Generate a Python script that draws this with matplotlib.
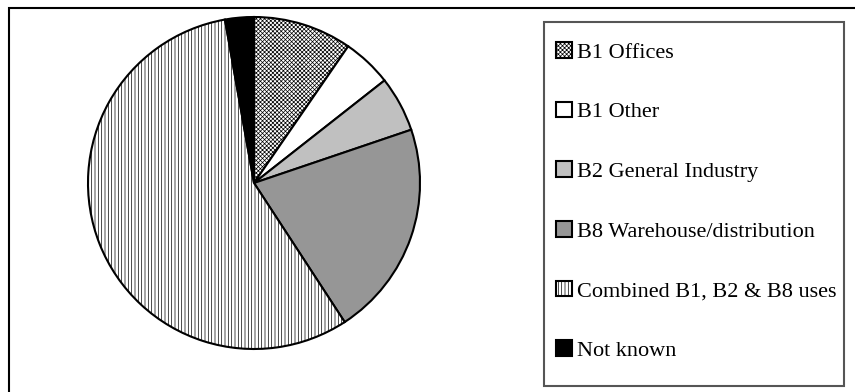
import matplotlib
matplotlib.use("Agg")
import matplotlib.pyplot as plt
from matplotlib.patches import Rectangle

# share of floorspace by use class (%)
labels = ["B1 Offices", "B1 Other", "B2 General Industry",
          "B8 Warehouse/distribution", "Combined B1, B2 & B8 uses", "Not known"]
values = [9.6, 4.8, 5.4, 21.0, 56.4, 2.8]
colours = ["white", "white", "#c0c0c0", "#969696", "white", "black"]
hatches = ["xxxxxxxx", "", "", "", "|||||", ""]

plt.rcParams["font.family"] = ["Liberation Serif", "DejaVu Serif"]
plt.rcParams["hatch.linewidth"] = 0.5

W, H = 855, 392
fig = plt.figure(figsize=(W / 100, H / 100), dpi=100)

# pie axes: centre (254,183) px, radius 166 px
cx, cy, r = 254, 183, 166
pad = 1.02
ax = fig.add_axes([(cx - r * pad) / W, (H - cy - r * pad) / H,
                   2 * r * pad / W, 2 * r * pad / H])
wedges, _ = ax.pie(values, colors=colours, startangle=90, counterclock=False,
                   wedgeprops=dict(edgecolor="black", linewidth=1.5))
for w, h in zip(wedges, hatches):
    if h:
        w.set_hatch(h)
ax.set_xlim(-pad, pad)
ax.set_ylim(-pad, pad)
ax.set_aspect("equal")
ax.axis("off")

# outer chart frame (only top and left visible)
fig.add_artist(Rectangle((9 / W, -0.2), 2, (H - 8) / H + 0.2,
                         transform=fig.transFigure, fill=False,
                         edgecolor="black", linewidth=1.5))

# legend box
fig.add_artist(Rectangle((544 / W, (H - 386) / H), 300 / W, 364 / H,
                         transform=fig.transFigure, fill=False,
                         edgecolor="#555555", linewidth=1.5))

fs = 16
ax.legend(wedges, labels, loc="upper left",
          bbox_to_anchor=(556 / W, (H - 42) / H), bbox_transform=fig.transFigure,
          frameon=False, borderpad=0, borderaxespad=0,
          handlelength=0.7, handleheight=0.7, handletextpad=0.26,
          labelspacing=1.76, prop=dict(size=fs))

fig.savefig("out.png", dpi=100)
